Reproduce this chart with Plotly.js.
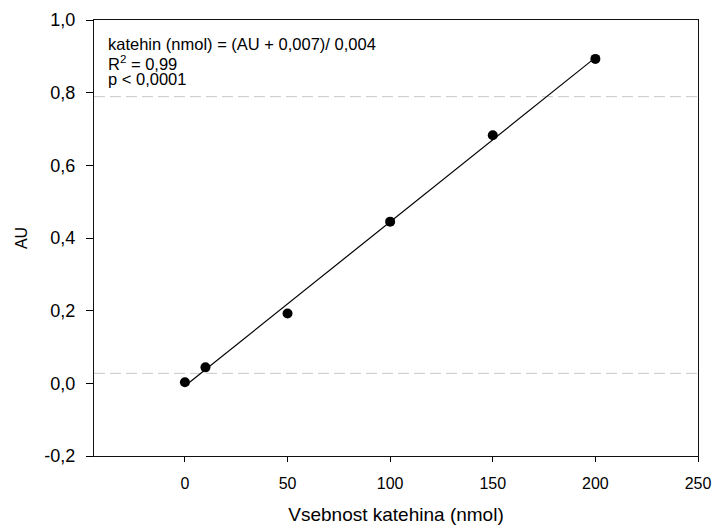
<!DOCTYPE html>
<html>
<head>
<meta charset="utf-8">
<script src="https://cdn.plot.ly/plotly-3.0.1.min.js"></script>
<style>
  html, body { margin: 0; padding: 0; background: #fff; }
  #chart { width: 715px; height: 529px; }
</style>
</head>
<body>
<div id="chart"></div>
<script>
// Calibration points: catechin amount (nmol) vs absorbance (AU)
const amountNmol = [0, 10, 50, 100, 150, 200];
const absorbance = [0.003, 0.044, 0.192, 0.445, 0.683, 0.893];

// Horizontal reference levels (dashed)
const referenceLevels = [0.789, 0.0275];

// Axis ticks
const xTickVals = [0, 50, 100, 150, 200, 250];
const xTickText = ['0', '50', '100', '150', '200', '250'];
const yTickVals = [-0.2, 0, 0.2, 0.4, 0.6, 0.8, 1.0];
const yTickText = ['-0,2', '0,0', '0,2', '0,4', '0,6', '0,8', '1,0'];

// Equation box lines
const equationLines = [
  'katehin (nmol) = (AU + 0,007)/ 0,004',
  'R<sup>2</sup> = 0,99',
  'p < 0,0001'
];

// Least-squares line through the calibration points
function linearFit(xs, ys) {
  const n = xs.length;
  const mx = xs.reduce((a, b) => a + b, 0) / n;
  const my = ys.reduce((a, b) => a + b, 0) / n;
  let sxx = 0, sxy = 0;
  for (let i = 0; i < n; i++) {
    sxx += (xs[i] - mx) * (xs[i] - mx);
    sxy += (xs[i] - mx) * (ys[i] - my);
  }
  const slope = sxy / sxx;
  return { slope, intercept: my - slope * mx };
}
const fit = linearFit(amountNmol, absorbance);
const fitX = [Math.min(...amountNmol), Math.max(...amountNmol)];
const fitY = fitX.map(x => fit.intercept + fit.slope * x);

const font = 'Arial, "Liberation Sans", sans-serif';

const traces = [
  {
    x: fitX, y: fitY, type: 'scatter', mode: 'lines',
    line: { color: '#000', width: 1.2 }, hoverinfo: 'skip'
  },
  {
    x: amountNmol, y: absorbance, type: 'scatter', mode: 'markers',
    marker: { color: '#000', size: 10 }
  }
];

const shapes = referenceLevels.map(v => ({
  type: 'line', xref: 'paper', x0: 0, x1: 1, yref: 'y', y0: v, y1: v,
  line: { color: '#c8c8c8', width: 1, dash: '11px,5px' }, layer: 'below'
}));

// Equation lines stacked with a tight line pitch
const plotHeight = 529 - 20 - 73;
const linePitch = 17.5;
const annotations = equationLines.map((t, i) => ({
  xref: 'paper', yref: 'paper', x: 0.022, y: 1 - (14 + i * linePitch) / plotHeight,
  xanchor: 'left', yanchor: 'top', align: 'left', showarrow: false,
  text: t, borderpad: 0,
  font: { family: font, size: 16.5, color: '#000' }
}));

const layout = {
  width: 715, height: 529,
  margin: { l: 94, r: 17, t: 20, b: 73 },
  paper_bgcolor: '#fff', plot_bgcolor: '#fff',
  showlegend: false,
  font: { family: font, size: 16, color: '#000' },
  xaxis: {
    range: [-44.3, 250],
    tickvals: xTickVals, ticktext: xTickText,
    ticks: 'outside', ticklen: 5, tickwidth: 1, tickcolor: '#000',
    ticklabelstandoff: 8, ticklabeloverflow: 'allow',
    showline: true, linecolor: '#111', linewidth: 1.2, mirror: true,
    showgrid: false, zeroline: false,
    tickfont: { family: font, size: 16 },
    title: { text: 'Vsebnost katehina (nmol)', font: { family: font, size: 19 }, standoff: 16 }
  },
  yaxis: {
    range: [-0.2, 1.0],
    tickvals: yTickVals, ticktext: yTickText,
    ticks: 'outside', ticklen: 7, tickwidth: 1, tickcolor: '#000',
    ticklabelstandoff: 7, ticklabeloverflow: 'allow',
    showline: true, linecolor: '#111', linewidth: 1.2, mirror: true,
    showgrid: false, zeroline: false,
    tickfont: { family: font, size: 18 },
    title: { text: 'AU', font: { family: font, size: 16 }, standoff: 12 }
  },
  shapes: shapes,
  annotations: annotations
};

Plotly.newPlot('chart', traces, layout, { displayModeBar: false, staticPlot: true });
</script>
</body>
</html>
